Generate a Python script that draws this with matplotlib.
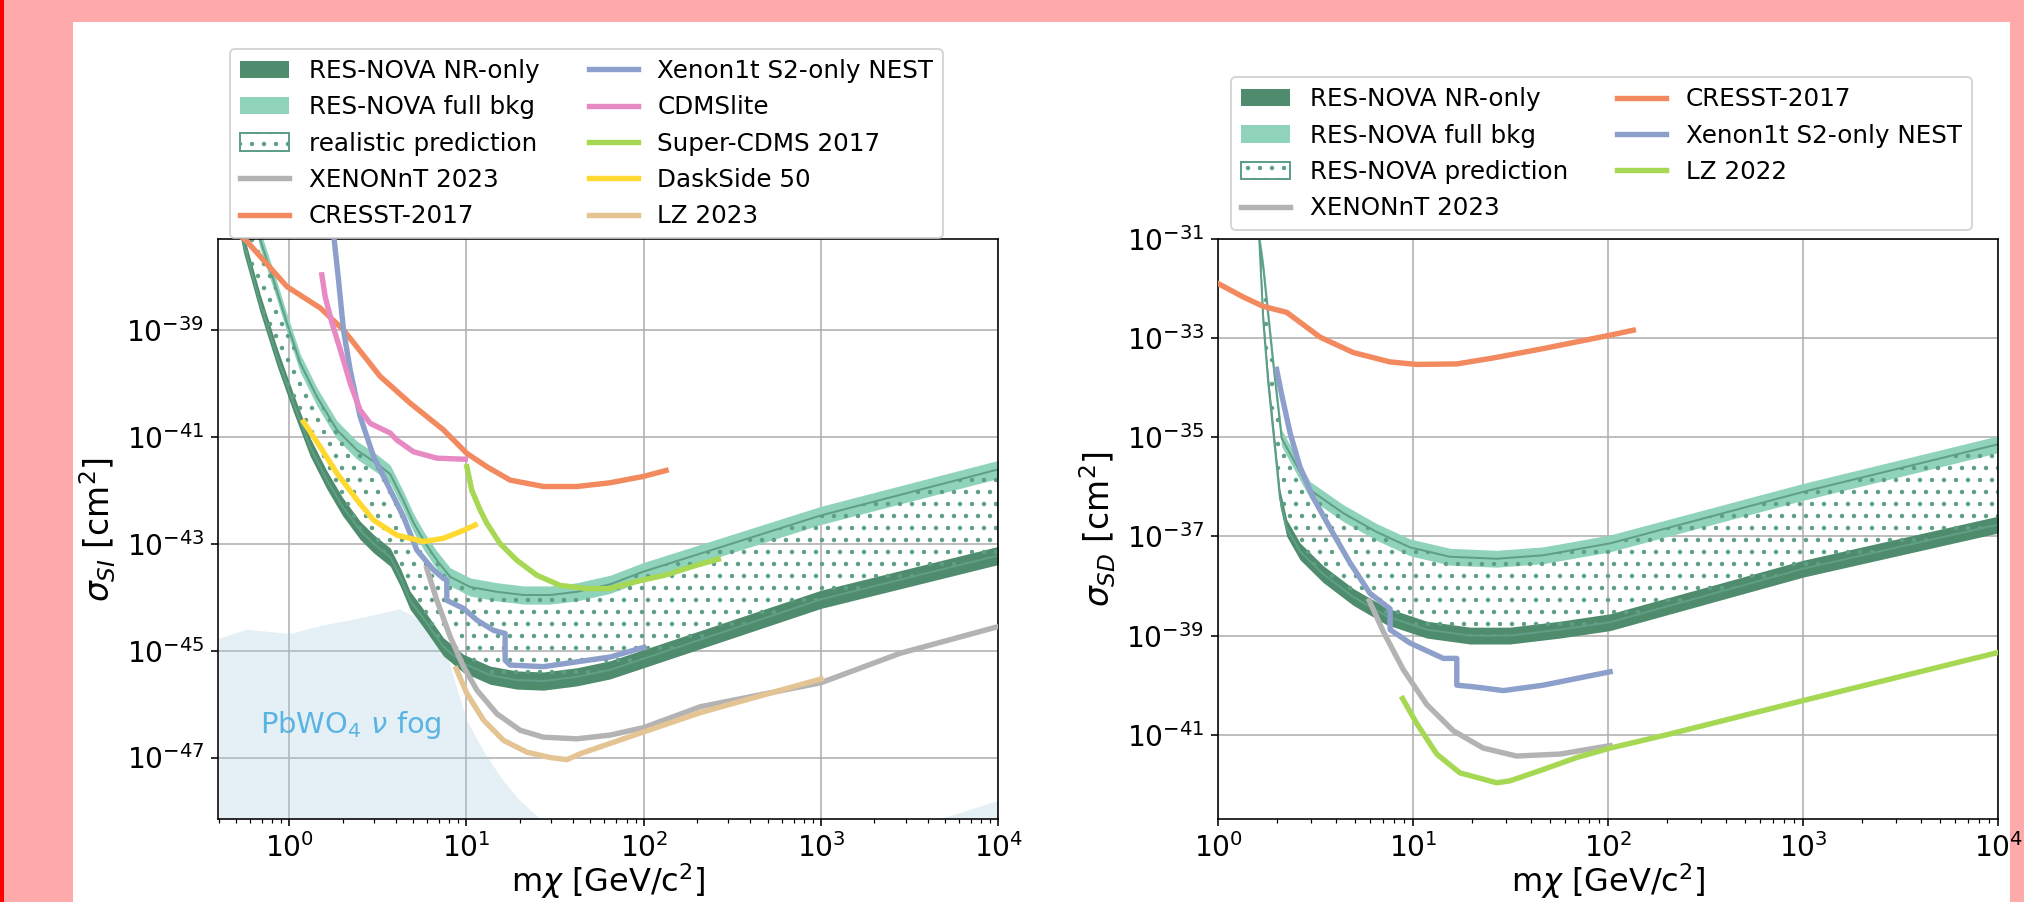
import matplotlib.pyplot as plt
from matplotlib.patches import Rectangle
from matplotlib.ticker import NullLocator
import numpy as np

# values, stored as log10(m / GeV) and log10(sigma / cm^2)

# ---- spin independent (left panel) ----
si_nr_lm = [-0.33, -0.258, -0.164, -0.069, 0.024, 0.118, 0.213, 0.30, 0.40, 0.476, 0.57, 0.626, 0.682, 0.758, 0.87,
            0.983, 1.134, 1.284, 1.434, 1.623, 1.81, 2.0, 3.0, 4.0]
si_nr_ls = [-36.2, -37.38, -38.5, -39.5, -40.37, -41.19, -41.81, -42.3, -42.75, -43.0, -43.25, -43.62, -44.06, -44.4,
            -44.93, -45.24, -45.46, -45.55, -45.57, -45.49, -45.36, -45.15, -44.04, -43.22]
si_full_lm = [-0.25, -0.164, -0.089, -0.013, 0.062, 0.156, 0.269, 0.382, 0.495, 0.57, 0.645, 0.70, 0.76, 0.833, 0.908,
              1.021, 1.171, 1.322, 1.472, 1.623, 1.81, 2.0, 3.0, 4.0]
si_full_ls = [-36.0, -37.31, -38.06, -38.87, -39.62, -40.25, -40.87, -41.25, -41.5, -41.7, -42.2, -42.6, -42.95, -43.31,
              -43.62, -43.81, -43.9, -43.96, -43.96, -43.9, -43.76, -43.52, -42.47, -41.61]
si_fog_lm = [-0.4, -0.24, 0.0, 0.19, 0.38, 0.62, 0.70, 0.80, 0.90, 1.0, 1.1, 1.2, 1.3, 1.4, 1.45, 3.62, 4.0]
si_fog_ls = [-44.77, -44.6, -44.68, -44.52, -44.4, -44.22, -44.35, -44.7, -45.2, -46.3, -46.9, -47.4, -47.8, -48.1,
             -48.6, -48.2, -47.8]
si_xent_lm = [0.776, 0.833, 0.908, 0.983, 1.059, 1.171, 1.303, 1.434, 1.623, 1.81, 2.0, 2.319, 3.0, 3.446, 4.0]
si_xent_ls = [-43.46, -44.06, -44.74, -45.3, -45.74, -46.18, -46.49, -46.62, -46.65, -46.58, -46.44, -46.05, -45.6,
              -45.05, -44.55]
si_cresst_lm = [-0.3, -0.248, -0.013, 0.175, 0.306, 0.513, 0.682, 0.87, 1.002, 1.115, 1.246, 1.434, 1.623, 1.81, 2.0,
                2.126]
si_cresst_ls = [-37.2, -37.31, -38.19, -38.59, -39.0, -39.87, -40.37, -40.87, -41.31, -41.56, -41.81, -41.93, -41.93,
                -41.86, -41.74, -41.63]
si_x1t_lm = [0.25, 0.278, 0.306, 0.344, 0.4, 0.476, 0.551, 0.645, 0.72, 0.814, 0.87, 0.889, 0.889, 0.983, 1.059, 1.152,
             1.218, 1.218, 1.246, 1.434, 1.623, 1.81, 2.0]
si_x1t_ls = [-37.2, -38.06, -39.0, -39.75, -40.62, -41.37, -41.87, -42.5, -43.12, -43.49, -43.65, -43.68, -44.06, -44.21,
             -44.43, -44.62, -44.68, -45.18, -45.27, -45.3, -45.21, -45.12, -44.94]
si_cdmslite_lm = [0.184, 0.203, 0.241, 0.288, 0.344, 0.4, 0.457, 0.57, 0.607, 0.701, 0.833, 0.993]
si_cdmslite_ls = [-37.97, -38.38, -38.87, -39.37, -40.0, -40.5, -40.75, -40.93, -41.06, -41.28, -41.4, -41.42]
si_scdms_lm = [1.002, 1.03, 1.077, 1.115, 1.19, 1.284, 1.397, 1.528, 1.679, 1.81, 1.942, 2.13, 2.3, 2.421]
si_scdms_ls = [-41.56, -42.0, -42.37, -42.62, -43.0, -43.31, -43.59, -43.78, -43.84, -43.84, -43.72, -43.58, -43.4,
               -43.29]
si_ds50_lm = [0.081, 0.175, 0.269, 0.382, 0.476, 0.607, 0.758, 0.87, 0.983, 1.049]
si_ds50_ls = [-40.72, -41.19, -41.68, -42.18, -42.56, -42.84, -42.96, -42.9, -42.75, -42.65]
si_lz_lm = [0.942, 1.002, 1.096, 1.209, 1.341, 1.472, 1.566, 1.641, 1.754, 2.0, 2.319, 3.0]
si_lz_ls = [-45.34, -45.8, -46.3, -46.68, -46.9, -47.0, -47.04, -46.93, -46.8, -46.52, -46.16, -45.53]
si_yexp = [-47, -45, -43, -41, -39]

# ---- spin dependent (right panel) ----
sd_nr_lm = [0.21, 0.231, 0.256, 0.29, 0.316, 0.351, 0.419, 0.538, 0.692, 0.863, 1.069, 1.291, 1.496, 1.752, 2.009,
            3.0, 4.0]
sd_nr_ls = [-31.0, -32.67, -33.9, -35.2, -36.22, -36.83, -37.3, -37.76, -38.22, -38.61, -38.88, -39.0, -39.0, -38.88,
            -38.73, -37.65, -36.76]
sd_full_lm = [0.21, 0.231, 0.282, 0.325, 0.47, 0.641, 0.812, 0.983, 1.188, 1.428, 1.667, 2.009, 3.0, 4.0]
sd_full_ls = [-31.0, -31.59, -33.52, -35.02, -36.06, -36.53, -36.91, -37.22, -37.41, -37.45, -37.38, -37.14, -36.1,
              -35.14]
sd_xent_lm = [0.775, 0.846, 0.949, 1.069, 1.205, 1.359, 1.53, 1.752, 2.009]
sd_xent_ls = [-38.3, -38.92, -39.69, -40.39, -40.92, -41.27, -41.43, -41.39, -41.22]
sd_cresst_lm = [0.0, 0.128, 0.231, 0.351, 0.522, 0.692, 0.881, 1.017, 1.223, 1.41, 1.667, 2.009, 2.128]
sd_cresst_ls = [-31.9, -32.17, -32.36, -32.48, -32.98, -33.29, -33.48, -33.53, -33.52, -33.4, -33.21, -32.94, -32.84]
sd_x1t_lm = [0.299, 0.325, 0.368, 0.419, 0.487, 0.573, 0.675, 0.778, 0.881, 0.881, 0.983, 1.154, 1.223, 1.223, 1.325,
             1.462, 1.667, 2.009]
sd_x1t_ls = [-33.63, -34.14, -34.91, -35.6, -36.22, -36.83, -37.53, -38.15, -38.46, -38.88, -39.15, -39.46, -39.46,
             -40.0, -40.04, -40.11, -40.0, -39.73]
sd_lz_lm = [0.945, 1.017, 1.12, 1.239, 1.428, 1.496, 1.667, 1.838, 2.009, 2.3, 3.0, 4.0]
sd_lz_ls = [-40.27, -40.77, -41.39, -41.77, -41.97, -41.93, -41.7, -41.46, -41.27, -41.0, -40.31, -39.34]
sd_yexp = [-41, -39, -37, -35, -33, -31]

BAND = 0.17  # half width of the RES-NOVA bands, decades

dark = '#4e8c6d'
light = '#8fd3bb'
hatch_col = '#5f9f85'
set2 = {'cresst': '#f3895f', 'x1t': '#8da0cb', 'cdmslite': '#e78ac3', 'scdms': '#a6d854',
        'ds50': '#ffd92f', 'lz': '#e5c494', 'xent': '#b3b3b3'}

W, H, DPI = 2024, 902, 144
fig = plt.figure(figsize=(W / DPI, H / DPI), dpi=DPI, facecolor='#ffaaaa')
fig.add_artist(Rectangle((73 / W, 0), (2010 - 73) / W, (H - 22) / H, transform=fig.transFigure,
                         facecolor='white', edgecolor='none', zorder=-10))
fig.add_artist(Rectangle((0, 0), 4 / W, 1, transform=fig.transFigure,
                         facecolor='red', edgecolor='none', zorder=-10))

ax1 = fig.add_axes([218.3 / W, 83 / H, 780 / W, 580 / H])
ax2 = fig.add_axes([1218.3 / W, 83 / H, 780 / W, 580 / H])


def lg(a):
    return 10.0 ** np.asarray(a)


def band(ax, lm, ls, color, label):
    y = np.asarray(ls)
    return ax.fill_between(lg(lm), lg(y - BAND), lg(y + BAND), color=color, lw=0, label=label, zorder=2)


def prediction(ax, lm_lo, ls_lo, lm_hi, ls_hi, label):
    xs = lg(np.concatenate([lm_hi, lm_lo[::-1]]))
    ys = lg(np.concatenate([ls_hi, ls_lo[::-1]]))
    return ax.fill(xs, ys, facecolor='none', edgecolor=hatch_col, hatch='..', lw=1.0,
                   label=label, zorder=2.5)[0]


def curve(ax, lm, ls, key, label):
    return ax.plot(lg(lm), lg(ls), color=set2[key], lw=2.7, label=label, zorder=3)[0]


# left panel
ax1.fill_between(lg(si_fog_lm), 1e-52, lg(si_fog_ls), color='#a6cee3', alpha=0.3, lw=0, zorder=1)
h_nr = band(ax1, si_nr_lm, si_nr_ls, dark, 'RES-NOVA NR-only')
h_full = band(ax1, si_full_lm, si_full_ls, light, 'RES-NOVA full bkg')
h_pred = prediction(ax1, si_nr_lm, si_nr_ls, si_full_lm, si_full_ls, 'realistic prediction')
h_xent = curve(ax1, si_xent_lm, si_xent_ls, 'xent', 'XENONnT 2023')
h_cresst = curve(ax1, si_cresst_lm, si_cresst_ls, 'cresst', 'CRESST-2017')
h_x1t = curve(ax1, si_x1t_lm, si_x1t_ls, 'x1t', 'Xenon1t S2-only NEST')
h_cdms = curve(ax1, si_cdmslite_lm, si_cdmslite_ls, 'cdmslite', 'CDMSlite')
h_scdms = curve(ax1, si_scdms_lm, si_scdms_ls, 'scdms', 'Super-CDMS 2017')
h_ds = curve(ax1, si_ds50_lm, si_ds50_ls, 'ds50', 'DaskSide 50')
h_lz = curve(ax1, si_lz_lm, si_lz_ls, 'lz', 'LZ 2023')
ax1.text(0.686, 2.9e-47, r'PbWO$_4$ $\nu$ fog', color='#5ab4e2', fontsize=14.5, va='baseline', ha='left')
ax1.set_xlim(10 ** -0.4, 1e4)
ax1.set_ylim(10 ** -48.15, 10 ** -37.3)
ax1.set_ylabel(r'$\sigma_{SI}$ [cm$^2$]', fontsize=16.5)
hs = [h_nr, h_full, h_pred, h_xent, h_cresst, h_x1t, h_cdms, h_scdms, h_ds, h_lz]
ax1.legend(hs, [h.get_label() for h in hs], ncol=2, fontsize=12.3, loc='lower left',
           bbox_to_anchor=(230 / W, 1 - 238 / H), bbox_transform=fig.transFigure, borderaxespad=0)

# right panel
h_nr = band(ax2, sd_nr_lm, sd_nr_ls, dark, 'RES-NOVA NR-only')
h_full = band(ax2, sd_full_lm, sd_full_ls, light, 'RES-NOVA full bkg')
h_pred = prediction(ax2, sd_nr_lm, sd_nr_ls, sd_full_lm, sd_full_ls, 'RES-NOVA prediction')
h_xent = curve(ax2, sd_xent_lm, sd_xent_ls, 'xent', 'XENONnT 2023')
h_cresst = curve(ax2, sd_cresst_lm, sd_cresst_ls, 'cresst', 'CRESST-2017')
h_x1t = curve(ax2, sd_x1t_lm, sd_x1t_ls, 'x1t', 'Xenon1t S2-only NEST')
h_lz = curve(ax2, sd_lz_lm, sd_lz_ls, 'scdms', 'LZ 2022')
ax2.set_xlim(1, 1e4)
ax2.set_ylim(10 ** -42.7, 1e-31)
ax2.set_ylabel(r'$\sigma_{SD}$ [cm$^2$]', fontsize=16.5)
hs = [h_nr, h_full, h_pred, h_xent, h_cresst, h_x1t, h_lz]
ax2.legend(hs, [h.get_label() for h in hs], ncol=2, fontsize=12.3, loc='lower left',
           bbox_to_anchor=(1231 / W, 1 - 230 / H), bbox_transform=fig.transFigure, borderaxespad=0)

for ax, yexp in [(ax1, si_yexp), (ax2, sd_yexp)]:
    ax.set_xscale('log')
    ax.set_yscale('log')
    ax.set_yticks(lg(yexp))
    ax.yaxis.set_minor_locator(NullLocator())
    ax.grid(True, which='major', color='#b0b0b0', lw=0.8)
    ax.set_axisbelow(True)
    ax.tick_params(labelsize=14)
    ax.set_xlabel(r'm$\chi$ [GeV/c$^2$]', fontsize=16, labelpad=-1)

fig.savefig('out.png', dpi=DPI, facecolor=fig.get_facecolor())
